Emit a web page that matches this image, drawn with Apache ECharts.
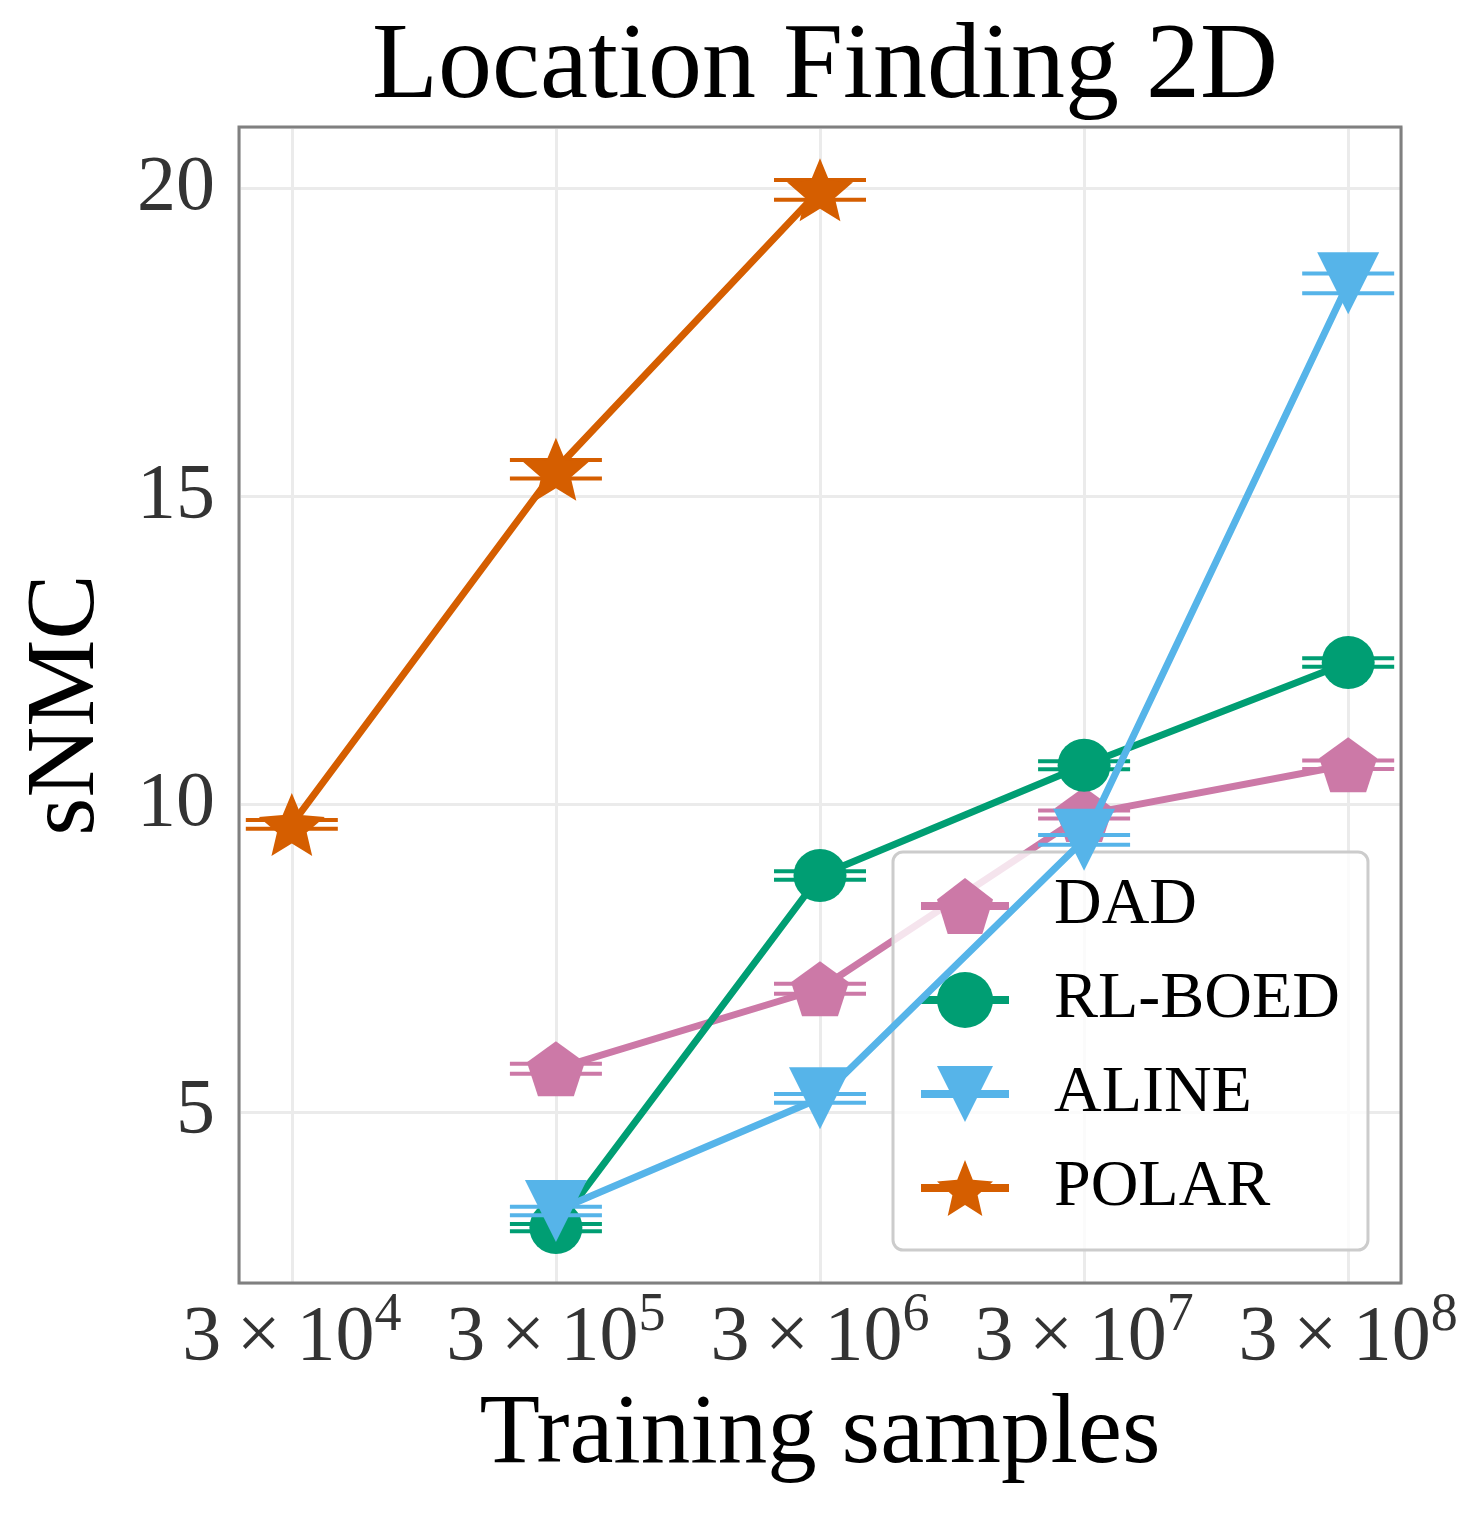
<!DOCTYPE html>
<html>
<head>
<meta charset="utf-8">
<title>Location Finding 2D</title>
<script src="https://cdn.jsdelivr.net/npm/echarts@6/dist/echarts.min.js"></script>
<style>
  html, body { margin: 0; padding: 0; background: #fff; }
  #chart { width: 1484px; height: 1519px; }
</style>
</head>
<body>
<div id="chart"></div>
<script>
// training samples on x, sNMC (mean and error bar) per method
var samples = [3e4, 3e5, 3e6, 3e7, 3e8];
var methods = ['DAD', 'RL-BOED', 'ALINE', 'POLAR'];
var dad = [null, 5.70, 7.00, 9.83, 10.64];
var dadErr = [null, 0.08, 0.08, 0.065, 0.07];
var rlboed = [null, 3.12, 8.84, 10.63, 12.30];
var rlboedErr = [null, 0.06, 0.07, 0.065, 0.07];
var aline = [null, 3.39, 5.22, 9.42, 18.46];
var alineErr = [null, 0.07, 0.07, 0.08, 0.16];
var polar = [9.67, 15.44, 19.98, null, null];
var polarErr = [0.07, 0.15, 0.16, null, null];
var yTicks = [5, 10, 15, 20];

var colors = ['#CC79A7', '#009E73', '#56B4E9', '#D55E00'];
var font = 'Liberation Serif';

// marker shapes (matplotlib p, o, v, *)
function shape(points, inner) {
  var d = '';
  var n = inner ? points * 2 : points;
  for (var k = 0; k < n; k++) {
    var a = k * 2 * Math.PI / n;
    var r = inner && k % 2 ? inner : 1;
    d += (k ? 'L' : 'M') + (100 + 100 * r * Math.sin(a)).toFixed(2) + ',' + (100 - 100 * r * Math.cos(a)).toFixed(2);
  }
  return 'path://' + d + 'Z';
}
var symbols = [shape(5), 'circle', 'path://M0,0L100,0L50,100Z', shape(5, 0.45)];
var symbolSizes = [[58, 55], 53, [62, 62], [66, 63]];

var means = [dad, rlboed, aline, polar];
var errs = [dadErr, rlboedErr, alineErr, polarErr];

// x is plotted as log10(samples / 3) so the ticks fall on 3 x 10^n
function xOf(s) { return Math.round(Math.log10(s / 3) * 1e6) / 1e6; }
function isInt(v) { return Math.abs(v - Math.round(v)) < 1e-6; }

var series = [];
methods.forEach(function (name, m) {
  var pts = [];
  var bars = [];
  samples.forEach(function (s, i) {
    if (means[m][i] == null) return;
    pts.push([xOf(s), means[m][i]]);
    bars.push([xOf(s), means[m][i], errs[m][i]]);
  });
  series.push({
    name: name + ' err',
    type: 'custom',
    z: 2 + m * 2,
    data: bars,
    renderItem: function (params, api) {
      var x = api.value(0), y = api.value(1), e = api.value(2);
      var hi = api.coord([x, y + e]);
      var lo = api.coord([x, y - e]);
      var st = { stroke: colors[m], lineWidth: 4 };
      return {
        type: 'group',
        children: [
          { type: 'line', shape: { x1: hi[0], y1: hi[1], x2: lo[0], y2: lo[1] }, style: st },
          { type: 'line', shape: { x1: hi[0] - 46, y1: hi[1], x2: hi[0] + 46, y2: hi[1] }, style: st },
          { type: 'line', shape: { x1: lo[0] - 46, y1: lo[1], x2: lo[0] + 46, y2: lo[1] }, style: st }
        ]
      };
    }
  });
  series.push({
    name: name,
    type: 'line',
    z: 3 + m * 2,
    data: pts,
    symbol: symbols[m],
    symbolSize: symbolSizes[m],
    showAllSymbol: true,
    lineStyle: { color: colors[m], width: 7 },
    itemStyle: { color: colors[m] }
  });
});

var chart = echarts.init(document.getElementById('chart'));
chart.setOption({
  animation: false,
  backgroundColor: '#ffffff',
  title: {
    text: 'Location Finding 2D',
    left: 820,
    textAlign: 'center',
    top: 10,
    textStyle: { fontFamily: font, fontSize: 108, fontWeight: 'normal', color: '#000' }
  },
  grid: {
    left: 239, right: 83, top: 127, bottom: 236,
    show: true,
    z: 1,
    backgroundColor: 'transparent',
    borderColor: '#808080',
    borderWidth: 3
  },
  legend: {
    data: methods,
    orient: 'vertical',
    left: 893,
    top: 852,
    itemWidth: 88,
    itemHeight: 70,
    itemGap: 28,
    padding: [21, 28, 29, 24],
    backgroundColor: 'rgba(255,255,255,0.8)',
    borderColor: '#cccccc',
    borderWidth: 3,
    borderRadius: 10,
    lineStyle: { width: 8 },
    textStyle: { fontFamily: font, fontSize: 66, color: '#000', padding: [0, 0, 0, 40] }
  },
  xAxis: {
    type: 'value',
    min: 3.8,
    max: 8.2,
    splitNumber: 4,
    name: 'Training samples',
    nameLocation: 'middle',
    nameGap: 103,
    nameTextStyle: { fontFamily: font, fontSize: 99, color: '#000' },
    axisLine: { show: false },
    axisTick: { show: false },
    splitLine: { show: true, lineStyle: { color: '#ebebeb', width: 3 } },
    axisLabel: {
      margin: 17,
      showMinLabel: false,
      showMaxLabel: false,
      formatter: function (v) {
        if (!isInt(v)) return '';
        return '{m|3\u2009\u00d7\u200910}{sup|' + Math.round(v) + '}';
      },
      rich: {
        m: { fontFamily: font, fontSize: 78, color: '#333', lineHeight: 78 },
        sup: { fontFamily: font, fontSize: 54, color: '#333', height: 32, lineHeight: 32, verticalAlign: 'top' }
      }
    }
  },
  yAxis: {
    type: 'value',
    min: 2.22,
    max: 21.0,
    splitNumber: 4,
    name: 'sNMC',
    nameLocation: 'middle',
    nameGap: 123,
    nameTextStyle: { fontFamily: font, fontSize: 98, color: '#000' },
    axisLine: { show: false },
    axisTick: { show: false },
    splitLine: { show: true, lineStyle: { color: '#ebebeb', width: 3 } },
    axisLabel: {
      margin: 24,
      showMinLabel: false,
      showMaxLabel: false,
      fontFamily: font,
      fontSize: 78,
      color: '#333',
      formatter: function (v) { return yTicks.indexOf(v) >= 0 ? String(v) : ''; }
    }
  },
  series: series
});
</script>
</body>
</html>
